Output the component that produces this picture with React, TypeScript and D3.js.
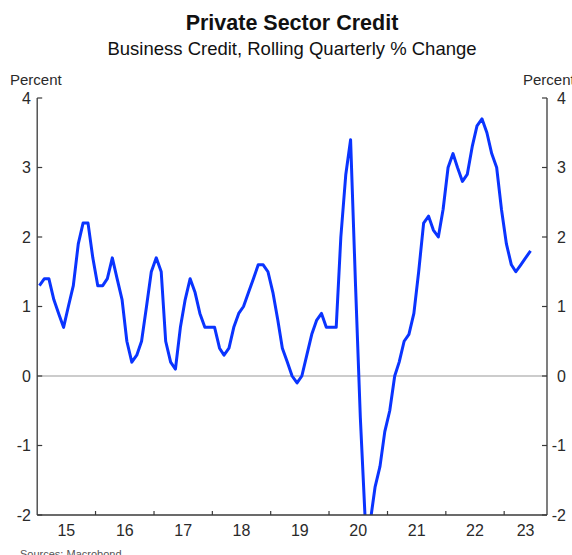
import React from "react";
import * as d3 from "d3";

const W = 572;
const H = 555;

// Business credit, rolling quarterly % change, monthly Jan 2015 – Jun 2023
const startYear = 2015;
const startMonth = 0;
const values: number[] = [
  1.3, 1.4, 1.4, 1.1, 0.9, 0.7, 1.0, 1.3, 1.9, 2.2, 2.2, 1.7,
  1.3, 1.3, 1.4, 1.7, 1.4, 1.1, 0.5, 0.2, 0.3, 0.5, 1.0, 1.5,
  1.7, 1.5, 0.5, 0.2, 0.1, 0.7, 1.1, 1.4, 1.2, 0.9, 0.7, 0.7,
  0.7, 0.4, 0.3, 0.4, 0.7, 0.9, 1.0, 1.2, 1.4, 1.6, 1.6, 1.5,
  1.2, 0.8, 0.4, 0.2, 0.0, -0.1, 0.0, 0.3, 0.6, 0.8, 0.9, 0.7,
  0.7, 0.7, 2.0, 2.9, 3.4, 1.3, -0.6, -2.1, -2.1, -1.6, -1.3, -0.8,
  -0.5, 0.0, 0.2, 0.5, 0.6, 0.9, 1.5, 2.2, 2.3, 2.1, 2.0, 2.4,
  3.0, 3.2, 3.0, 2.8, 2.9, 3.3, 3.6, 3.7, 3.5, 3.2, 3.0, 2.4,
  1.9, 1.6, 1.5, 1.6, 1.7, 1.8,
];

const yTicks = [-2, -1, 0, 1, 2, 3, 4];
const yearLabels = [2015, 2016, 2017, 2018, 2019, 2020, 2021, 2022, 2023];
const title = "Private Sector Credit";
const subtitle = "Business Credit, Rolling Quarterly % Change";
const unitLabel = "Percent";
const sourceText = "Sources:   Macrobond";

const FONT = "'Liberation Sans', Arial, Helvetica, sans-serif";

export default function App() {
  const left = 37.2;
  const right = 547;
  const top = 98;
  const bottom = 515;

  const x = d3
    .scaleTime()
    .domain([new Date(2015, 0, 1), new Date(2023, 8, 26)])
    .range([left, right]);
  const y = d3.scaleLinear().domain([-2, 4]).range([bottom, top]);

  const data = values.map((v, i) => ({
    date: new Date(startYear, startMonth + i, 15),
    v,
  }));

  const line = d3
    .line<{ date: Date; v: number }>()
    .x((d) => x(d.date))
    .y((d) => y(d.v));

  const yearTicks = yearLabels
    .map((yr) => new Date(yr, 0, 1))
    .filter((d) => x(d) > left + 1 && x(d) < right - 1);

  const labelPos = yearLabels.map((yr) => {
    const a = Math.max(x(new Date(yr, 0, 1)), left);
    const b = Math.min(x(new Date(yr + 1, 0, 1)), right);
    return { yr, cx: (a + b) / 2 };
  });

  const axisColor = "#3a3a3a";
  const textColor = "#2a2a2a";

  return (
    <svg
      width={W}
      height={H}
      style={{ position: "absolute", left: 0, top: 0, display: "block", background: "#fff" }}
      fontFamily={FONT}
    >
      <defs>
        <clipPath id="plotClip">
          <rect x={left} y={top} width={right - left} height={bottom - top} />
        </clipPath>
      </defs>

      <text x={292} y={29.5} textAnchor="middle" fontSize={21.5} fontWeight="bold" fill="#111">
        {title}
      </text>
      <text x={292} y={55} textAnchor="middle" fontSize={18.5} fill="#111">
        {subtitle}
      </text>

      <text x={10} y={85} fontSize={15} fill={textColor}>
        {unitLabel}
      </text>
      <text x={523} y={85} fontSize={15} fill={textColor}>
        {unitLabel}
      </text>

      {/* zero line */}
      <line x1={left} x2={right} y1={y(0)} y2={y(0)} stroke="#9a9a9a" strokeWidth={1.2} />

      {/* data line */}
      <path
        d={line(data) || ""}
        fill="none"
        stroke="#0a34ff"
        strokeWidth={3}
        strokeLinejoin="round"
        clipPath="url(#plotClip)"
      />

      {/* axes */}
      <line x1={left} x2={left} y1={top} y2={bottom} stroke={axisColor} strokeWidth={1.3} />
      <line x1={right} x2={right} y1={top} y2={bottom} stroke={axisColor} strokeWidth={1.3} />
      <line x1={left} x2={right} y1={bottom} y2={bottom} stroke={axisColor} strokeWidth={1.3} />

      {yTicks.map((t) => (
        <g key={t}>
          <line x1={left} x2={left + 5} y1={y(t)} y2={y(t)} stroke={axisColor} strokeWidth={1.2} />
          <line x1={right - 5} x2={right} y1={y(t)} y2={y(t)} stroke={axisColor} strokeWidth={1.2} />
          <text x={31} y={y(t)} dy="0.36em" textAnchor="end" fontSize={16} fill={textColor}>
            {t}
          </text>
          <text x={566} y={y(t)} dy="0.36em" textAnchor="end" fontSize={16} fill={textColor}>
            {t}
          </text>
        </g>
      ))}

      {yearTicks.map((d) => (
        <line
          key={d.getFullYear()}
          x1={x(d)}
          x2={x(d)}
          y1={bottom}
          y2={bottom - 4}
          stroke={axisColor}
          strokeWidth={1.2}
        />
      ))}

      {labelPos.map((p) => (
        <text key={p.yr} x={p.cx} y={536} textAnchor="middle" fontSize={16} fill={textColor}>
          {String(p.yr).slice(2)}
        </text>
      ))}

      <text x={20} y={558} fontSize={11} fill="#555">
        {sourceText}
      </text>
    </svg>
  );
}
